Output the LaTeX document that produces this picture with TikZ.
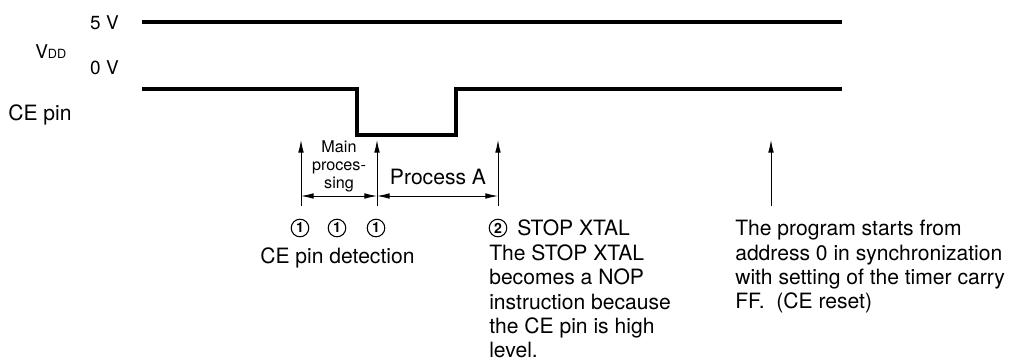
\documentclass[tikz,border=0pt]{standalone}
\usepackage{fontspec}
\setmainfont{TeX Gyre Heros}
\usetikzlibrary{positioning,arrows.meta}

\begin{document}
\begin{tikzpicture}[
  x=0.025cm, y=-0.025cm,
  sig/.style={line width=2.2pt, line join=miter},
  evtarrow/.style={-{Latex[length=9pt,width=4pt]}, line width=0.6pt},
  durarrow/.style={{Latex[length=9pt,width=4pt]}-{Latex[length=9pt,width=4pt]}, line width=0.6pt},
  txt/.style={font=\fontsize{15}{17.3}\selectfont, inner sep=0pt, align=left},
  lvl/.style={font=\fontsize{13.5}{15}\selectfont, inner sep=0pt},
  mainlbl/.style={font=\fontsize{11.5}{12.8}\selectfont, inner sep=0pt, align=center},
  circnum/.style={draw, circle, line width=0.75pt, minimum size=12.5pt, inner sep=0pt,
    font=\fontsize{10}{10}\selectfont\bfseries}
]
\useasboundingbox (0,0) rectangle (1021,363);

% signal levels
\node[lvl, anchor=base east] (fivev) at (119,29.5) {5 V};
\node[lvl, anchor=base east] (zerov) at (119,74.5) {0 V};
\node[lvl, anchor=base west] (vdd) at (35,58.5) {V{\fontsize{9}{9}\selectfont DD}};
\node[txt, anchor=base west] (cepin) at (8,120.5) {CE pin};

\coordinate (vdd0) at (142,22);
\coordinate (vdd1) at (842,22);
\coordinate (ce0) at (142,89);
\coordinate (ce1) at (842,89);
\draw[sig] (vdd0) -- (vdd1);
\draw[sig] (ce0) -- (357,89) -- (357,135) -- (456,135) -- (456,89) -- (ce1);

% timing marks
\coordinate (foot1) at (301,206);
\coordinate (tip1) at (301,140);
\coordinate (foot2) at (377,206);
\coordinate (tip2) at (377,140);
\coordinate (foot3) at (498,206);
\coordinate (tip3) at (498,140);
\coordinate (foot4) at (771,206);
\coordinate (tip4) at (771,140);
\draw[evtarrow] (foot1) -- (tip1);
\draw[evtarrow] (foot2) -- (tip2);
\draw[evtarrow] (foot3) -- (tip3);
\draw[evtarrow] (foot4) -- (tip4);

\coordinate (dur1) at (301,196);
\coordinate (dur2) at (377,196);
\coordinate (dur3) at (498,196);
\draw[durarrow] (dur1) -- (dur2);
\draw[durarrow] (dur2) -- (dur3);
\node[mainlbl] (mainproc) at (339,166) {Main\\proces-\\sing};
\node[txt, anchor=base] (procA) at (438,184.5) {Process A};

% notes
\node[circnum] (num1a) at (300,228) {1};
\node[circnum] (num1b) at (337,228) {1};
\node[circnum] (num1c) at (376,228) {1};
\node[txt, anchor=base west] (cedet) at (260,263.5) {CE pin detection};

\node[circnum] (num2) at (498,228) {2};
\node[txt, anchor=base west] (stopx) at (517,235.6) {STOP XTAL};
\node[txt, anchor=north west] (stopnote) at (489,244.5)
  {The STOP XTAL\\becomes a NOP\\instruction because\\the CE pin is high\\level.};

\node[txt, anchor=north west] (resetnote) at (735,220.2)
  {The program starts from\\address 0 in synchronization\\with setting of the timer carry\\FF.\ \ (CE reset)};
\end{tikzpicture}
\end{document}
